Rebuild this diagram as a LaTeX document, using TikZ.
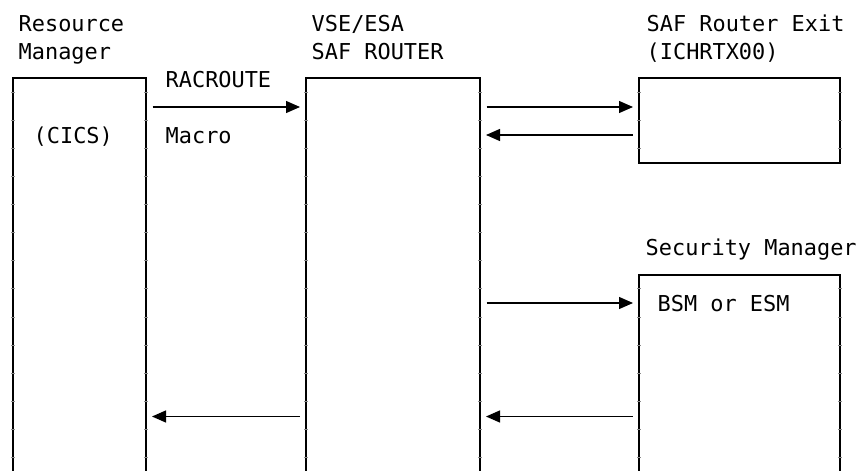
\documentclass[tikz,border=0pt]{standalone}
\usepackage{fontspec}
\newfontfamily\diagmono{DejaVu Sans Mono}
\usetikzlibrary{arrows.meta}
\begin{document}
\begin{tikzpicture}[x=1pt,y=-1pt,
  box/.style={draw, line width=1.5pt, inner sep=0pt, outer sep=0pt, anchor=north west},
  lbl/.style={anchor=base west, inner sep=0pt, font=\diagmono\fontsize{21.9}{26}\selectfont},
  arr/.style={line width=1.3pt, -{Triangle[length=14pt,width=12pt]}, shorten >=6pt, shorten <=6.5pt},
  tick/.style={line width=0.5pt, black!45}
]
\useasboundingbox (0,0) rectangle (863,471);
\clip (0,0) rectangle (863,471);
\fill[white] (0,0) rectangle (863,471);

% boxes
\node[box, minimum width=133pt, minimum height=410pt] (rm) at (13,78) {};
\node[box, minimum width=174pt, minimum height=410pt] (saf) at (306,78) {};
\node[box, minimum width=201pt, minimum height=85pt] (exit) at (639,78) {};
\node[box, minimum width=201pt, minimum height=220pt] (sec) at (639,275) {};

% ticks on vertical lines
\foreach \xx in {13,146,306,480} {
  \foreach \k in {0,...,13} {
    \draw[tick] (\xx-2, 92+28.1*\k) -- (\xx+2, 92+28.1*\k);
  }
}
\foreach \xx in {639,840} {
  \foreach \k in {0,1,2} {
    \draw[tick] (\xx-2, 92+28.1*\k) -- (\xx+2, 92+28.1*\k);
  }
  \foreach \k in {7,...,13} {
    \draw[tick] (\xx-2, 92+28.1*\k) -- (\xx+2, 92+28.1*\k);
  }
}

% labels
\node[lbl] (t1) at (18.5,31) {Resource};
\node[lbl] (t2) at (18.5,59) {Manager};
\node[lbl] (t3) at (311.5,31) {VSE/ESA};
\node[lbl] (t4) at (311.5,59) {SAF ROUTER};
\node[lbl] (t5) at (646.5,31) {SAF Router Exit};
\node[lbl] (t6) at (646.5,59) {(ICHRTX00)};
\node[lbl] (t7) at (165.5,87) {RACROUTE};
\node[lbl] (t8) at (165.5,143) {Macro};
\node[lbl] (t9) at (33.5,143) {(CICS)};
\node[lbl] (t10) at (645.5,255) {Security Manager};
\node[lbl] (t11) at (657.5,311) {BSM or ESM};

% arrow levels
\coordinate (ya) at (0,107);
\coordinate (yb) at (0,135);
\coordinate (yc) at (0,303);
\coordinate (yd) at (0,416.5);

% connectors
\draw[arr] (rm.east |- ya) -- (saf.west |- ya);
\draw[arr] (saf.east |- ya) -- (exit.west |- ya);
\draw[arr] (exit.west |- yb) -- (saf.east |- yb);
\draw[arr] (saf.east |- yc) -- (sec.west |- yc);
\draw[arr] (sec.west |- yd) -- (saf.east |- yd);
\draw[arr] (saf.west |- yd) -- (rm.east |- yd);
\end{tikzpicture}
\end{document}
